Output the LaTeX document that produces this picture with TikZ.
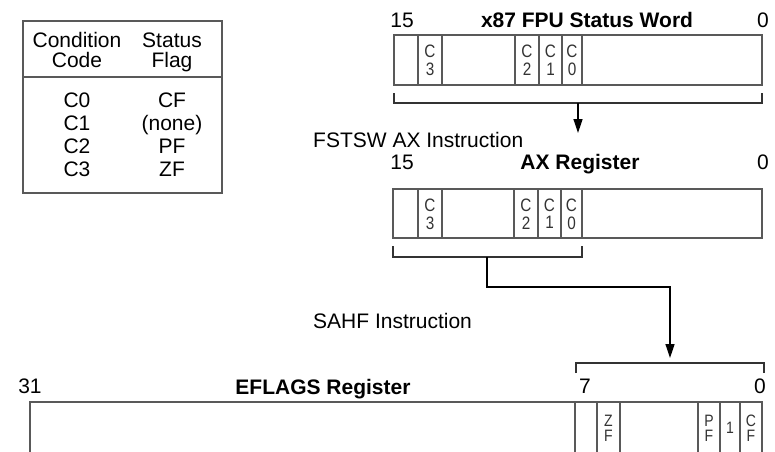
\documentclass[tikz,border=0pt]{standalone}
\usepackage{fontspec}
\setmainfont{Liberation Sans}
\usetikzlibrary{arrows.meta}
\newcommand\twobits[4]{\scalebox{0.85}[1]{\fontsize{#4}{#3}\selectfont\begin{tabular}{@{}c@{}}#1\\#2\end{tabular}}}
\begin{document}
\begin{tikzpicture}[x=1pt,y=-1pt,
  ln/.style={draw=black!65, line width=1.3pt},
  lbl/.style={inner sep=0pt, anchor=base, font=\fontsize{21}{25}\selectfont},
  ttl/.style={inner sep=0pt, anchor=base, font=\fontsize{21}{25}\selectfont\bfseries},
  bit/.style={inner sep=0pt, text=black!80},
  reg/.style={draw=black!65, line width=1.3pt, inner sep=0pt},
  arr/.style={draw=black, line width=1.3pt, -{Triangle[width=9pt,length=14pt]}},
]
\useasboundingbox (0,0) rectangle (775,451);

% ---------- table ----------
\node[reg, minimum width=199pt, minimum height=172pt] (tbl) at (122.5,107) {};
\draw[ln] (23,77) -- (222,77);
\node[lbl] (th1) at (77,47) {Condition};
\node[lbl] (th2) at (77,67) {Code};
\node[lbl] (th3) at (172,47) {Status};
\node[lbl] (th4) at (172,67) {Flag};
\node[lbl] (c0) at (77,107) {C0};
\node[lbl] (f0) at (172,107) {CF};
\node[lbl] (c1) at (77,130) {C1};
\node[lbl] (f1) at (172,130) {(none)};
\node[lbl] (c2) at (77,153) {C2};
\node[lbl] (f2) at (172,153) {PF};
\node[lbl] (c3) at (77,176) {C3};
\node[lbl] (f3) at (172,176) {ZF};

% ---------- x87 FPU status word ----------
\node[lbl] (fpu15) at (402,27) {15};
\node[ttl] (fputitle) at (587,27) {x87 FPU Status Word};
\node[lbl] (fpu0) at (763,27) {0};
\node[reg, minimum width=368pt, minimum height=50pt] (fpu) at (578,60) {};
\foreach \x in {418,442,515,539,562,582} \draw[ln] (\x,35) -- (\x,85);
\node[bit] (fc3) at (430,63) {\twobits{C}{3}{18}{18}};
\node[bit] (fc2) at (527,63) {\twobits{C}{2}{18}{18}};
\node[bit] (fc1) at (550.5,63) {\twobits{C}{1}{18}{18}};
\node[bit] (fc0) at (572,63) {\twobits{C}{0}{18}{18}};
\draw[ln, draw=black!80] (394,93) -- (394,103) -- (762,103) -- (762,93);
\coordinate (b1) at (578,103);
\coordinate (t1) at (578,133);
\draw[arr] (b1) -- (t1);

\node[lbl, anchor=base west] (fstsw) at (313,147) {FSTSW AX Instruction};

% ---------- AX register ----------
\node[lbl] (ax15) at (402,169) {15};
\node[ttl] (axtitle) at (580,169) {AX Register};
\node[lbl] (ax0) at (763,169) {0};
\node[reg, minimum width=369pt, minimum height=49pt] (ax) at (577.5,213.5) {};
\foreach \x in {418,442,514,538,561,582} \draw[ln] (\x,189) -- (\x,238);
\node[bit] (ac3) at (430,216.5) {\twobits{C}{3}{17}{18}};
\node[bit] (ac2) at (526,216.5) {\twobits{C}{2}{17}{18}};
\node[bit] (ac1) at (549.5,216.5) {\twobits{C}{1}{17}{18}};
\node[bit] (ac0) at (571.5,216.5) {\twobits{C}{0}{17}{18}};
\draw[ln, draw=black!80] (393,246) -- (393,257) -- (582,257) -- (582,246);
\coordinate (b2) at (487,257);
\coordinate (k2) at (670,287);
\coordinate (t2) at (670,358);
\draw[arr] (b2) |- (k2) -- (t2);

\node[lbl, anchor=base west] (sahf) at (313,328) {SAHF Instruction};

% ---------- EFLAGS register ----------
\draw[ln, draw=black!80] (576,373) -- (576,363) -- (764,363) -- (764,373);
\node[lbl] (ef31) at (30,393) {31};
\node[ttl] (eftitle) at (323,394) {EFLAGS Register};
\node[lbl] (ef7) at (585,393) {7};
\node[lbl] (ef0) at (760,393) {0};
\draw[ln] (30,453) -- (30,402) -- (762,402) -- (762,453);
\foreach \x in {575,597,620,698,720,740} \draw[ln] (\x,402) -- (\x,453);
\node[bit] (zf) at (608.5,430.5) {\twobits{Z}{F}{15}{16.5}};
\node[bit] (pf) at (709,430.5) {\twobits{P}{F}{15}{16.5}};
\node[bit, font=\fontsize{16.5}{16.5}\selectfont] (one) at (730,428) {\scalebox{0.85}[1]{1}};
\node[bit] (cf) at (751,430.5) {\twobits{C}{F}{15}{16.5}};
\end{tikzpicture}
\end{document}
